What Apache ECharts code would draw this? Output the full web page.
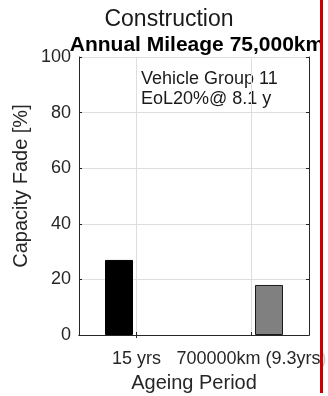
<!DOCTYPE html>
<html>
<head>
<meta charset="utf-8">
<script src="https://cdn.jsdelivr.net/npm/echarts@6/dist/echarts.min.js"></script>
<style>
html,body{margin:0;padding:0;background:#fff;}
#chart{width:328px;height:396px;}
</style>
</head>
<body>
<div id="chart"></div>
<script>
var categories = ['15 yrs', '700000km (9.3yrs)'];
var seriesTime = [27, null];
var seriesMileage = [null, 18];
var yTicks = [0, 20, 40, 60, 80, 100];
var titleMain = 'Construction';
var titleSub = 'Annual Mileage 75,000km';
var noteLines = ['Vehicle Group 11', 'EoL20%@ 8.1 y'];

var FONT = '"Liberation Sans", Arial, Helvetica, sans-serif';
var AXC = '#262626';
var chart = echarts.init(document.getElementById('chart'), null, {renderer: 'canvas'});

var yCommon = {
  type: 'value', min: yTicks[0], max: yTicks[yTicks.length - 1], interval: 20,
  axisLine: {show: true, lineStyle: {color: AXC, width: 1}},
  axisTick: {show: true, inside: true, length: 3, lineStyle: {color: AXC}}
};

var option = {
  animation: false,
  backgroundColor: '#ffffff',
  title: [
    {text: titleMain, left: 164, top: 3, textAlign: 'center',
     textStyle: {fontFamily: FONT, fontSize: 23, fontWeight: 'normal', color: '#1a1a1a'}},
    {text: titleSub, left: 192, top: 30, textAlign: 'center',
     textStyle: {fontFamily: FONT, fontSize: 21, fontWeight: 'bold', color: '#000'}}
  ],
  grid: {left: 79, right: 19, top: 57, bottom: 61, containLabel: false, outerBoundsMode: 'none'},
  xAxis: [
    {type: 'category', data: categories, position: 'bottom',
     name: 'Ageing Period', nameLocation: 'middle', nameGap: 38,
     nameTextStyle: {fontFamily: FONT, fontSize: 20, color: AXC},
     axisLine: {show: true, lineStyle: {color: AXC}},
     axisTick: {show: true, inside: true, length: 3, alignWithLabel: true, lineStyle: {color: AXC}},
     axisLabel: {fontFamily: FONT, fontSize: 18, color: AXC, margin: 15, interval: 0},
     splitLine: {show: true, alignWithLabel: true, lineStyle: {color: '#dedede', width: 1}}
    },
    {type: 'category', data: categories, position: 'top',
     axisLine: {show: true, lineStyle: {color: AXC}},
     axisTick: {show: true, inside: true, length: 3, alignWithLabel: true, lineStyle: {color: AXC}},
     axisLabel: {show: false}, splitLine: {show: false}
    }
  ],
  yAxis: [
    Object.assign({}, yCommon, {
      position: 'left',
      axisLabel: {fontFamily: FONT, fontSize: 18, color: AXC, margin: 8},
      splitLine: {show: true, lineStyle: {color: '#dedede', width: 1}}
    }),
    Object.assign({}, yCommon, {
      position: 'right',
      axisLabel: {show: false},
      splitLine: {show: false}
    })
  ],
  series: [
    {type: 'bar', name: 'time', data: seriesTime, xAxisIndex: 0, yAxisIndex: 0,
     barWidth: 28, barGap: '25%',
     itemStyle: {color: '#000000', borderColor: '#000000', borderWidth: 1}},
    {type: 'bar', name: 'mileage', data: seriesMileage, xAxisIndex: 0, yAxisIndex: 0,
     barWidth: 28, barGap: '25%',
     itemStyle: {color: '#808080', borderColor: '#1a1a1a', borderWidth: 1}}
  ],
  graphic: [
    {type: 'text', x: 21, y: 186, rotation: Math.PI / 2,
     style: {text: 'Capacity Fade [%]', font: '20px ' + FONT, fill: AXC,
             align: 'center', verticalAlign: 'middle'}},
    {type: 'text', x: 141, y: 69,
     style: {text: noteLines.join('\n'), font: '18px ' + FONT, fill: '#1a1a1a',
             lineHeight: 20, align: 'left', verticalAlign: 'top'}},
    {type: 'rect', z: 100, shape: {x: 323, y: 0, width: 5, height: 396},
     style: {fill: 'rgba(255,255,255,0.75)'}},
    {type: 'rect', z: 101, shape: {x: 320, y: 0, width: 3, height: 393},
     style: {fill: '#cc0000'}}
  ]
};
chart.setOption(option);
</script>
</body>
</html>
